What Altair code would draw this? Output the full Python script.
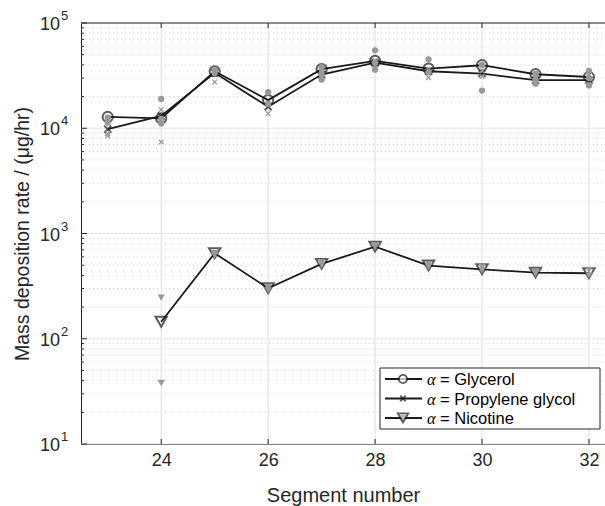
import altair as alt
import pandas as pd

# ---------------- data ----------------
segments = list(range(23, 33))
glycerol = [12800, 12400, 34800, 18500, 36400, 43600, 36900, 39700, 32600, 30700]
propylene = [9800, 13100, 33600, 16000, 32400, 42000, 34800, 33100, 28600, 28600]
nic_segments = list(range(24, 33))
nicotine = [145, 649, 302, 514, 750, 496, 457, 425, 419]

# individual replicate measurements (grey markers)
gly_rep_seg = [23, 23, 24, 24, 24, 25, 25, 26, 26, 27, 27, 27, 28, 28, 28, 29, 29, 30, 30, 31, 31, 31, 32, 32, 32]
gly_rep_val = [12600, 11300, 19000, 11100, 12300, 35500, 33500, 22000, 17000, 38000, 33000, 29000, 55000, 36000, 42000, 45000, 34000, 40000, 22800, 33000, 29000, 26500, 35000, 25500, 30000]
pg_rep_seg = [23, 23, 24, 24, 25, 25, 26, 26, 27, 27, 28, 28, 29, 29, 30, 30, 31, 31, 32, 32]
pg_rep_val = [8900, 8500, 15000, 7400, 27500, 35000, 13800, 17000, 30000, 34000, 40000, 44000, 30300, 36000, 31000, 35000, 27000, 30000, 26000, 32000]
nic_rep_seg = [24, 24, 25, 25, 26, 26, 27, 27, 28, 28, 29, 29, 30, 30, 31, 31, 32, 32]
nic_rep_val = [246, 38, 650, 620, 290, 310, 500, 530, 740, 770, 480, 510, 445, 480, 415, 432, 400, 450]

x_ticks = [24, 26, 28, 30, 32]
y_decades = [10, 100, 1000, 10000, 100000]
y_exponents = ["1", "2", "3", "4", "5"]
y_minor = [k * 10 ** d for d in range(1, 5) for k in range(2, 10)]

legend_names = ["Glycerol", "Propylene glycol", "Nicotine"]

# ---------------- layout ----------------
W, H = 524, 421
PAD_L, PAD_T = 81, 23
INK = "#262626"
LINE = "#1a1a1a"
GREY = "#999999"
FONT = "Liberation Sans"

xs = alt.Scale(domain=[22.5, 32.3], nice=False, zero=False)
ys = alt.Scale(type="log", domain=[10, 100000], nice=False)


def X(**kw):
    return alt.X("seg:Q", scale=xs, **kw)


def Y(**kw):
    return alt.Y("val:Q", scale=ys, **kw)


dummy = pd.DataFrame({"a": [0]})

series = pd.concat([
    pd.DataFrame({"seg": segments, "val": glycerol, "s": "Glycerol"}),
    pd.DataFrame({"seg": segments, "val": propylene, "s": "Propylene glycol"}),
    pd.DataFrame({"seg": nic_segments, "val": nicotine, "s": "Nicotine"}),
])

layers = []

# minor grid (dotted)
layers.append(alt.Chart(pd.DataFrame({"val": y_minor})).mark_rule(
    color="#c4c4c4", strokeWidth=0.8, strokeDash=[1, 3]).encode(
    y=Y(), x=alt.value(0), x2=alt.value(W)))
# major grids
layers.append(alt.Chart(pd.DataFrame({"val": y_decades})).mark_rule(
    color="#e4e4e4", strokeWidth=1.2).encode(
    y=Y(), x=alt.value(0), x2=alt.value(W)))
layers.append(alt.Chart(pd.DataFrame({"seg": x_ticks})).mark_rule(
    color="#e4e4e4", strokeWidth=1.2).encode(
    x=X(), y=alt.value(0), y2=alt.value(H)))

# lines
layers.append(alt.Chart(series).mark_line(color=LINE, strokeWidth=1.8).encode(
    x=X(title="Segment number",
        axis=alt.Axis(values=x_ticks, format="d", grid=False, ticks=False, domain=True,
                      domainColor=INK, domainWidth=1, labelFont=FONT,
                      labelFontSize=18, labelColor=INK, labelPadding=7,
                      titleFont=FONT, titleFontSize=20, titleColor=INK,
                      titleFontWeight="normal", titleY=51, titleBaseline="middle")),
    y=Y(title="Mass deposition rate / (μg/hr)",
        axis=alt.Axis(values=y_decades, grid=False, ticks=False, labels=False,
                      domain=True, domainColor=INK, domainWidth=1,
                      titleFont=FONT, titleFontSize=19.5, titleColor=INK,
                      titleFontWeight="normal", titleX=-59, titleY=H / 2,
                      titleAngle=-90, titleAlign="center", titleBaseline="middle")),
    detail="s:N"))

# mean markers
gdf = pd.DataFrame({"seg": segments, "val": glycerol})
pdf = pd.DataFrame({"seg": segments, "val": propylene})
ndf = pd.DataFrame({"seg": nic_segments, "val": nicotine})
layers.append(alt.Chart(gdf).mark_point(shape="circle", filled=False, color=LINE,
                                        strokeWidth=2, size=105).encode(x=X(), y=Y()))
layers.append(alt.Chart(pdf).mark_point(shape="M-1,-1L1,1M-1,1L1,-1", filled=False, color=LINE,
                                        strokeWidth=2, size=50).encode(x=X(), y=Y()))
layers.append(alt.Chart(ndf).mark_point(shape="triangle-down", filled=False, color=LINE,
                                        strokeWidth=2, size=130).encode(x=X(), y=Y()))

# replicate grey markers
layers.append(alt.Chart(pd.DataFrame({"seg": gly_rep_seg, "val": gly_rep_val})).mark_point(
    shape="circle", filled=True, color=GREY, opacity=1, size=40).encode(x=X(), y=Y()))
layers.append(alt.Chart(pd.DataFrame({"seg": pg_rep_seg, "val": pg_rep_val})).mark_point(
    shape="M-1,-1L1,1M-1,1L1,-1", filled=False, color=GREY, strokeWidth=1.3, opacity=1,
    size=22).encode(x=X(), y=Y()))
layers.append(alt.Chart(pd.DataFrame({"seg": nic_rep_seg, "val": nic_rep_val})).mark_point(
    shape="triangle-down", filled=True, color=GREY, opacity=1, size=55).encode(x=X(), y=Y()))

# frame top line
layers.append(alt.Chart(dummy).mark_rule(color=INK, strokeWidth=1).encode(
    x=alt.value(0), x2=alt.value(W), y=alt.value(0)))

# inward ticks
tick_df = pd.DataFrame({"seg": x_ticks})
layers.append(alt.Chart(tick_df).mark_rule(color=INK, strokeWidth=1).encode(
    x=X(), y=alt.value(H), y2=alt.value(H - 5)))
layers.append(alt.Chart(tick_df).mark_rule(color=INK, strokeWidth=1).encode(
    x=X(), y=alt.value(0), y2=alt.value(5)))
layers.append(alt.Chart(pd.DataFrame({"val": y_decades})).mark_rule(color=INK, strokeWidth=1).encode(
    y=Y(), x=alt.value(0), x2=alt.value(6)))
layers.append(alt.Chart(pd.DataFrame({"val": y_minor})).mark_rule(color=INK, strokeWidth=1).encode(
    y=Y(), x=alt.value(0), x2=alt.value(3)))

# y tick labels 10^k
ylab = pd.DataFrame({"val": y_decades, "e": y_exponents})
layers.append(alt.Chart(ylab).mark_text(text="10", font=FONT, fontSize=18, color=INK,
                                        align="right", baseline="middle", dy=2).encode(
    y=Y(), x=alt.value(-21)))
layers.append(alt.Chart(ylab).mark_text(font=FONT, fontSize=13, color=INK,
                                        align="left", baseline="middle", dy=-7).encode(
    y=Y(), x=alt.value(-20), text="e:N"))

# legend
LX0, LX1, LY0, LY1 = 299, 519, 345, 406
layers.append(alt.Chart(dummy).mark_rect(fill="white", stroke=INK, strokeWidth=1).encode(
    x=alt.value(LX0), x2=alt.value(LX1), y=alt.value(LY0), y2=alt.value(LY1)))
row_y = [356, 375.5, 395]
shapes = ["circle", "M-1,-1L1,1M-1,1L1,-1", "triangle-down"]
sizes = [70, 30, 110]
for name, ry, shp, sz in zip(legend_names, row_y, shapes, sizes):
    layers.append(alt.Chart(dummy).mark_rule(color=LINE, strokeWidth=1.8).encode(
        x=alt.value(304), x2=alt.value(341), y=alt.value(ry)))
    if shp == "triangle-down":
        layers.append(alt.Chart(dummy).mark_point(shape=shp, filled=True, color="#bbbbbb",
                                                  size=60, opacity=1).encode(
            x=alt.value(322), y=alt.value(ry)))
    if shp == "circle":
        layers.append(alt.Chart(dummy).mark_point(shape=shp, filled=False, color=LINE,
                                                  fill="white", strokeWidth=1.8, size=sz).encode(
            x=alt.value(322), y=alt.value(ry)))
    else:
        layers.append(alt.Chart(dummy).mark_point(shape=shp, filled=False, color=LINE,
                                                  strokeWidth=1.8, size=sz).encode(
            x=alt.value(322), y=alt.value(ry)))
    layers.append(alt.Chart(dummy).mark_text(text="α", font="Liberation Serif", fontStyle="italic",
                                             fontSize=16.5, color="black", align="left",
                                             baseline="middle", dy=1).encode(
        x=alt.value(346), y=alt.value(ry)))
    layers.append(alt.Chart(dummy).mark_text(text="= " + name, font=FONT, fontSize=16.5,
                                             color="black", align="left",
                                             baseline="middle", dy=1).encode(
        x=alt.value(359), y=alt.value(ry)))

chart = alt.layer(*layers).properties(
    width=W, height=H,
    autosize=alt.AutoSizeParams(type="none"),
    padding={"left": PAD_L, "top": PAD_T, "right": 0, "bottom": 506 - PAD_T - H},
    background="white",
).configure_view(stroke=None)

chart.save("out.html", embed_options={"renderer": "svg", "actions": False})
